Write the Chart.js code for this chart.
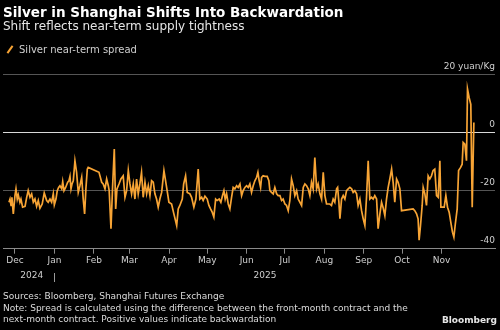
<!DOCTYPE html>
<html>
<head>
<meta charset="utf-8">
<script src="https://cdn.jsdelivr.net/npm/chart.js@4.4.1/dist/chart.umd.min.js"></script>
<style>
  html, body { margin: 0; padding: 0; background: #000; }
  body { width: 500px; height: 330px; position: relative; overflow: hidden; font-family: "DejaVu Sans", sans-serif; }
  #chart { position: absolute; left: 0; top: 0; }
  .title { position: absolute; left: 3px; top: 4px; font-size: 13.5px; line-height: 16px; font-weight: bold; color: #fff; white-space: nowrap; }
  .subtitle { position: absolute; left: 3px; top: 19px; font-size: 12px; line-height: 14px; color: #e6e6e6; white-space: nowrap; }
  .legend { position: absolute; left: 19px; top: 43.5px; font-size: 10px; line-height: 12px; color: #cfcfcf; white-space: nowrap; }
  .legend-icon { position: absolute; left: 8.5px; top: 44.5px; width: 2px; height: 9px; background: #f7a435; transform: rotate(35deg); }
  .footer { position: absolute; left: 3px; top: 291px; font-size: 9px; line-height: 11.7px; color: #dcdcdc; white-space: nowrap; }
  .brand { position: absolute; right: 3px; top: 314.5px; font-size: 9px; line-height: 11.7px; font-weight: bold; color: #e6e6e6; }
</style>
</head>
<body>
<canvas id="chart" width="500" height="330"></canvas>
<div class="title">Silver in Shanghai Shifts Into Backwardation</div>
<div class="subtitle">Shift reflects near-term supply tightness</div>
<span class="legend-icon"></span>
<div class="legend">Silver near-term spread</div>
<div class="footer">Sources: Bloomberg, Shanghai Futures Exchange<br>Note: Spread is calculated using the difference between the front-month contract and the<br>next-month contract. Positive values indicate backwardation</div>
<div class="brand">Bloomberg</div>
<script>
// days counted from 2024-12-01
const spreadDays = [
  -4.7, -3.9, -3.1, -2.4, -1.3, 0, 0.8, 1.8, 2.6, 3.9, 4.7, 6.0, 7.9, 9.2, 10.4, 11.8, 13.1, 14.4, 15.7, 17.0,
  18.3, 19.6, 21.4, 23.0, 24.9, 26.1, 27.5, 28.8, 30.1, 30.9, 32.2, 33.2, 34.3, 35.3, 36.7, 37.5, 38.5, 39.8, 41.4, 42.4,
  43.2, 44.0, 44.8, 45.8, 47.1, 48.4, 49.7, 51.0, 52.4, 53.6, 54.7, 55.7, 56.8, 57.5, 66.0, 68.1, 69.3, 70.7, 72.0, 73.3,
  74.0, 75.4, 76.7, 78.0, 79.1, 80.1, 81.7, 83.2, 85.0, 86.4, 87.7, 89.0, 90.3, 91.6, 92.9, 94.2, 95.5, 96.8, 98.1, 99.4,
  100.7, 102.1, 103.4, 104.7, 106.0, 107.3, 108.6, 109.9, 111.2, 112.5, 113.8, 115.2, 117.0, 118.3, 119.9, 120.9, 123.0, 124.8, 127.0, 128.2,
  129.5, 131.4, 132.5, 134.0, 135.3, 137.4, 138.7, 140.5, 142.1, 143.9, 145.2, 146.6, 147.8, 149.2, 151.0, 152.3, 153.6, 154.9, 156.2, 157.6,
  158.8, 160.4, 161.7, 163.1, 164.1, 165.1, 166.2, 167.5, 168.8, 170.1, 171.4, 172.7, 174.1, 175.3, 176.7, 178.0, 179.2, 180.6, 181.9, 183.2,
  184.5, 185.8, 187.1, 188.4, 189.8, 190.8, 191.8, 192.9, 193.7, 194.9, 196.3, 198.1, 199.4, 200.2, 201.5, 202.8, 204.1, 205.5, 206.7, 208.1,
  209.4, 210.6, 212.0, 213.3, 214.6, 215.9, 217.2, 218.5, 219.8, 221.2, 222.4, 223.8, 225.1, 226.4, 227.7, 229.0, 230.3, 231.6, 232.9, 234.2,
  235.5, 236.9, 238.1, 239.5, 240.8, 242.1, 243.4, 244.7, 246.0, 247.3, 248.6, 249.9, 251.2, 252.6, 253.4, 254.4, 255.2, 256.5, 257.8, 259.1,
  260.4, 261.7, 263.0, 264.4, 265.6, 266.9, 268.3, 269.5, 270.9, 272.2, 273.5, 274.8, 276.1, 277.4, 278.7, 280.0, 281.3, 282.6, 284.0, 285.2,
  286.6, 287.9, 289.2, 290.5, 291.8, 293.1, 294.4, 295.8, 297.0, 298.3, 299.7, 300.9, 302.3, 303.6, 312.7, 314.0, 315.4, 316.6, 317.4, 318.5,
  319.8, 320.6, 321.9, 323.2, 324.5, 325.8, 327.1, 328.4, 329.7, 331.1, 332.4, 333.7, 334.5, 335.8, 337.1, 338.4, 339.7, 341.0, 342.3, 343.6,
  344.7, 345.7, 347.3, 348.4, 350.0, 351.2, 352.0, 353.3, 354.6, 355.4, 356.7, 358.0, 359.1, 360.4
];
const spreadValues = [
  -24.0, -22.9, -25.1, -22.3, -28.0, -21.7, -19.4, -22.9, -21.5, -24.0, -22.9, -25.7, -25.4, -22.3, -20.0, -22.3, -21.1, -24.0, -22.9, -25.4,
  -23.4, -26.1, -24.6, -20.8, -23.4, -24.0, -22.9, -24.0, -21.1, -24.9, -22.9, -20.0, -18.9, -18.3, -19.4, -16.9, -20.0, -18.9, -17.1, -16.6,
  -15.1, -19.4, -17.7, -16.6, -9.7, -13.7, -20.6, -18.3, -15.4, -22.9, -28.0, -19.4, -12.6, -12.0, -13.7, -17.1, -17.7, -19.4, -16.0, -18.3,
  -20.0, -33.1, -18.3, -5.7, -26.3, -19.4, -17.7, -16.0, -14.9, -22.3, -20.0, -13.1, -17.7, -21.1, -17.7, -22.9, -16.0, -21.1, -17.7, -13.7,
  -22.3, -17.1, -21.1, -18.3, -21.7, -16.6, -17.1, -21.1, -22.9, -25.7, -22.9, -20.6, -13.1, -16.6, -21.1, -24.0, -24.6, -28.0, -32.0, -26.3,
  -25.1, -22.9, -17.7, -14.9, -20.6, -21.1, -22.3, -25.7, -22.9, -12.6, -22.9, -22.3, -23.4, -21.9, -22.9, -25.1, -26.3, -27.4, -29.1, -22.9,
  -23.4, -22.9, -24.0, -21.5, -20.0, -22.9, -21.1, -24.6, -26.3, -22.3, -18.9, -19.4, -18.3, -18.9, -17.7, -21.7, -20.0, -18.9, -18.3, -18.9,
  -17.7, -20.6, -18.3, -16.6, -15.4, -13.7, -16.6, -18.9, -15.4, -14.9, -15.1, -15.1, -16.6, -20.0, -20.6, -21.1, -18.9, -21.1, -21.7, -21.7,
  -23.4, -22.9, -24.6, -25.1, -26.9, -23.4, -16.0, -18.3, -21.7, -20.0, -22.9, -24.0, -25.1, -18.9, -17.7, -18.3, -19.4, -21.7, -17.1, -19.4,
  -8.6, -19.4, -17.7, -21.1, -22.9, -13.7, -21.7, -24.6, -24.6, -24.6, -25.1, -22.9, -24.0, -19.4, -18.9, -24.0, -29.7, -22.9, -21.7, -22.9,
  -20.0, -19.4, -18.9, -19.4, -20.6, -20.0, -21.1, -25.1, -22.9, -26.9, -29.7, -32.0, -22.3, -9.7, -22.9, -22.3, -22.9, -21.7, -22.9, -33.1,
  -28.0, -24.0, -26.0, -28.6, -22.9, -18.9, -16.0, -12.6, -17.1, -24.0, -16.0, -17.1, -19.4, -26.9, -26.3, -26.9, -28.0, -29.7, -37.1, -32.0,
  -25.1, -18.9, -21.1, -25.1, -14.9, -16.0, -14.9, -13.1, -12.6, -21.7, -22.3, -9.7, -25.7, -25.7, -25.7, -21.7, -25.7, -27.4, -30.9, -34.3,
  -36.0, -32.0, -26.3, -13.1, -12.0, -10.9, -3.4, -4.0, -9.7, 15.0, 12.0, 9.7, -25.7, 3.5
];

const monthTickDays = [0, 31, 62, 90, 121, 151, 182, 212, 243, 274, 304, 335];
const monthLabels = ['Dec', 'Jan', 'Feb', 'Mar', 'Apr', 'May', 'Jun', 'Jul', 'Aug', 'Sep', 'Oct', 'Nov'];
const yearLabels = ['2024', '2025'];
const yearStartDay = 31; // 2025-01-01
const yTicks = [-40, -20, 0, 20];

const ORANGE = '#f7a435';
const LABEL = '#cfcfcf';

// year row under the month labels, centred on each year's data span
const yearRow = {
  id: 'yearRow',
  afterDraw(chart) {
    const x = chart.scales.x;
    const c = chart.ctx;
    const first = spreadDays.filter(d => d < yearStartDay);
    const second = spreadDays.filter(d => d >= yearStartDay);
    const mids = [
      (first[0] + first[first.length - 1]) / 2,
      (second[0] + second[second.length - 1]) / 2
    ];
    const y = x.bottom + 7.5;
    c.save();
    c.font = '9px "DejaVu Sans"';
    c.fillStyle = LABEL;
    c.textAlign = 'center';
    c.textBaseline = 'middle';
    mids.forEach((m, i) => c.fillText(yearLabels[i], x.getPixelForValue(m), y));
    const sx = Math.round(x.getPixelForValue(yearStartDay)) + 0.5;
    c.strokeStyle = '#9a9a9a';
    c.lineWidth = 1;
    c.beginPath();
    c.moveTo(sx, y - 3);
    c.lineTo(sx, y + 6);
    c.stroke();
    c.restore();
  }
};

const points = spreadDays.map((d, i) => ({ x: d, y: spreadValues[i] }));

new Chart(document.getElementById('chart'), {
  type: 'line',
  data: {
    datasets: [{
      label: 'Silver near-term spread',
      data: points,
      borderColor: ORANGE,
      borderWidth: 1.7,
      pointRadius: 0,
      tension: 0
    }]
  },
  options: {
    responsive: false,
    animation: false,
    layout: { padding: { left: 3, right: 5, top: 74.5, bottom: 61.5 } },
    plugins: { legend: { display: false }, tooltip: { enabled: false } },
    scales: {
      x: {
        type: 'linear',
        min: -9.4,
        max: 377,
        afterBuildTicks: s => { s.ticks = monthTickDays.map(v => ({ value: v })); },
        ticks: {
          callback: v => monthLabels[monthTickDays.indexOf(v)],
          color: LABEL,
          font: { family: 'DejaVu Sans', size: 9 },
          padding: 2,
          maxRotation: 0,
          autoSkip: false
        },
        grid: { drawOnChartArea: false, tickLength: 5, color: '#8a8a8a' },
        border: { color: '#8a8a8a' }
      },
      y: {
        position: 'right',
        min: -40,
        max: 20,
        afterBuildTicks: s => { s.ticks = yTicks.map(v => ({ value: v })); },
        ticks: {
          mirror: true,
          padding: 0,
          labelOffset: -8,
          callback: v => (v === 20 ? '20 yuan/Kg' : v),
          color: LABEL,
          font: { family: 'DejaVu Sans', size: 9 }
        },
        grid: {
          drawTicks: false,
          color: ctx => (ctx.tick && ctx.tick.value === 0 ? '#d8d8d8' : '#555')
        },
        border: { display: false }
      }
    }
  },
  plugins: [yearRow]
});
</script>
</body>
</html>
